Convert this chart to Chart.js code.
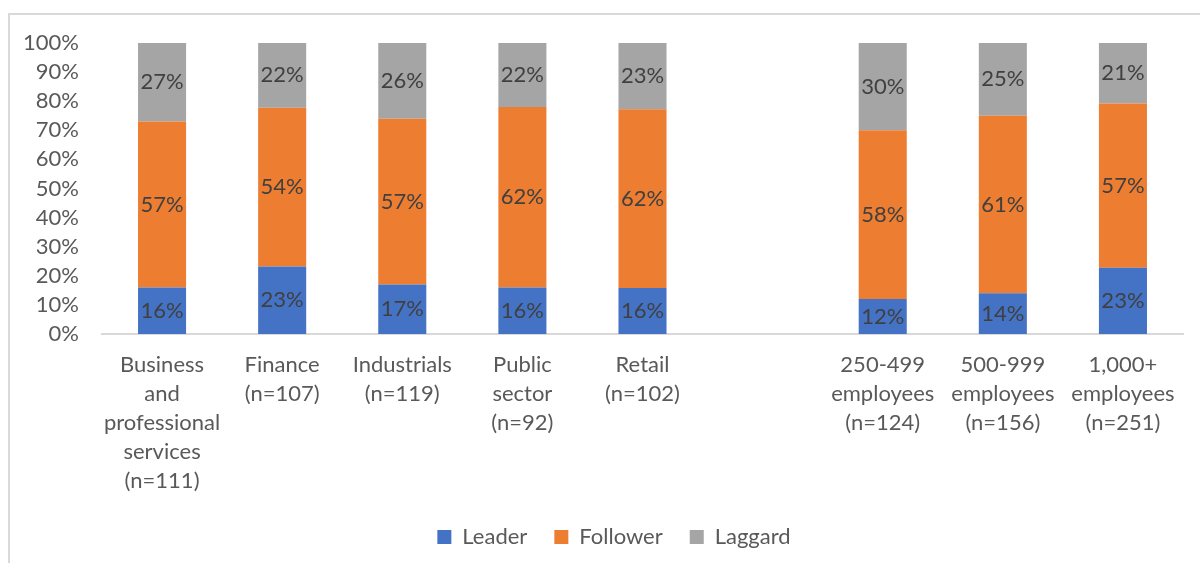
<!DOCTYPE html>
<html>
<head>
<meta charset="utf-8">
<script src="https://cdn.jsdelivr.net/npm/chart.js@4"></script>
<style>
  html, body { margin: 0; padding: 0; background: #fff; overflow: hidden; }
  #wrap { position: relative; width: 1200px; height: 563px; }
  #frame { position: absolute; left: 8px; top: 13px; width: 1200px; height: 600px;
           border-left: 2px solid #d9d9d9; border-top: 2px solid #d9d9d9; }
  canvas { position: absolute; left: 0; top: 0; }
</style>
</head>
<body>
<div id="wrap">
  <div id="frame"></div>
  <canvas id="myChart" width="1200" height="563"></canvas>
</div>
<script>
// categories (empty slot separates sector from company size)
const categories = [
  ["Business", "and", "professional", "services", "(n=111)"],
  ["Finance", "(n=107)"],
  ["Industrials", "(n=119)"],
  ["Public", "sector", "(n=92)"],
  ["Retail", "(n=102)"],
  "",
  ["250-499", "employees", "(n=124)"],
  ["500-999", "employees", "(n=156)"],
  ["1,000+", "employees", "(n=251)"]
];

const leader   = [16, 23, 17, 16, 16, null, 12, 14, 23];
const follower = [57, 54, 57, 62, 62, null, 58, 61, 57];
const laggard  = [27, 22, 26, 22, 23, null, 30, 25, 21];

const yTicks = [0, 10, 20, 30, 40, 50, 60, 70, 80, 90, 100];

// 100% stacked, like Excel: share of each column total
const totals = leader.map((v, i) => v === null ? null : v + follower[i] + laggard[i]);
const share = arr => arr.map((v, i) => v === null ? null : v / totals[i] * 100);

const series = [
  { label: "Leader", values: leader, color: "#4472C4" },
  { label: "Follower", values: follower, color: "#ED7D31" },
  { label: "Laggard", values: laggard, color: "#A5A5A5" }
];

const FONT = "Lato, 'Open Sans', sans-serif";
Chart.defaults.font.family = FONT;
Chart.defaults.font.size = 22;
Chart.defaults.color = "#595959";

// draw value labels in the middle of each segment
const segmentLabels = {
  id: "segmentLabels",
  afterLayout(chart) {
    // legend sits a bit right of centre in the original
    chart.legend.left = 45;
  },
  afterDatasetsDraw(chart) {
    const ctx = chart.ctx;
    ctx.save();
    ctx.font = "22px " + FONT;
    ctx.fillStyle = "#404040";
    ctx.textAlign = "center";
    ctx.textBaseline = "middle";
    chart.data.datasets.forEach((ds, d) => {
      const meta = chart.getDatasetMeta(d);
      meta.data.forEach((bar, i) => {
        const v = series[d].values[i];
        if (v === null) return;
        ctx.fillText(v + "%", bar.x, (bar.y + bar.base) / 2);
      });
    });
    ctx.restore();
  }
};

const config = {
  type: "bar",
  data: {
    labels: categories,
    datasets: series.map(s => ({
      label: s.label,
      data: share(s.values),
      backgroundColor: s.color,
      borderWidth: 0,
      categoryPercentage: 1,
      barPercentage: 0.4
    }))
  },
  options: {
    responsive: false,
    animation: false,
    layout: { padding: { top: 43, right: 17, bottom: 5, left: 0 } },
    plugins: {
      legend: {
        position: "bottom",
        maxHeight: 65,
        labels: { boxWidth: 14, boxHeight: 14, padding: 27, color: "#595959" }
      },
      tooltip: { enabled: false }
    },
    scales: {
      x: {
        stacked: true,
        grid: { display: false, drawTicks: false },
        border: { color: "#d9d9d9", width: 2 },
        ticks: { padding: 16, maxRotation: 0, autoSkip: false, color: "#595959",
                 font: { size: 22, lineHeight: 1.32 } },
        afterFit: s => { s.height = 165; }
      },
      y: {
        stacked: true,
        min: 0,
        max: 100,
        afterBuildTicks: s => { s.ticks = yTicks.map(v => ({ value: v })); },
        grid: { display: false, drawTicks: false },
        border: { display: false },
        ticks: { padding: 23, autoSkip: false, color: "#595959", callback: v => v + "%" },
        afterFit: s => { s.width = 102; }
      }
    }
  },
  plugins: [segmentLabels]
};

new Chart(document.getElementById("myChart"), config);
</script>
</body>
</html>
